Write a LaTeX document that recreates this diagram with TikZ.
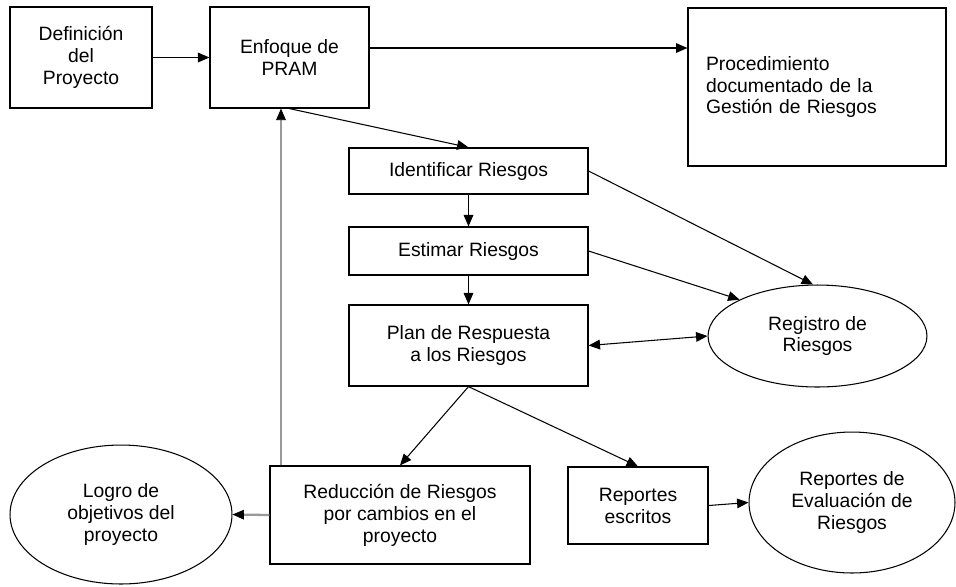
\documentclass[tikz,border=0pt]{standalone}
\usepackage{fontspec}
\setmainfont{Liberation Sans}
\usetikzlibrary{shapes.geometric,arrows.meta}
\begin{document}
\begin{tikzpicture}[x=0.02cm,y=-0.02cm,
		font=\fontsize{11}{12.5}\selectfont,
		caja/.style={draw,line width=0.7pt,rectangle,align=center,inner sep=0pt},
		elipse/.style={draw,line width=0.6pt,ellipse,align=center,inner sep=0pt},
		flecha/.style={line width=0.6pt,-{Triangle[length=6.5pt,width=5.5pt]}},
		gris/.style={draw=black!40,line width=1.3pt,-{Triangle[length=6.5pt,width=5.5pt,color=black,fill=black,line width=0.4pt]}}]
		\useasboundingbox (0,0) rectangle (956,586);
		\node[caja,minimum width=2.84cm,minimum height=2.02cm] (def) at (81,57.5) {Definición\\del\\Proyecto};
		\node[caja,minimum width=3.18cm,minimum height=2.02cm] (enfoque) at (289.5,57.5) {Enfoque de\\PRAM};
		\node[caja,minimum width=5.16cm,minimum height=3.16cm,text width=4.44cm,align=left] (proc) at (817,87) {Procedimiento\\documentado de la\\Gestión de Riesgos};
		\node[caja,minimum width=4.78cm,minimum height=0.92cm] (ident) at (468.5,171) {Identificar Riesgos};
		\node[caja,minimum width=4.78cm,minimum height=0.96cm] (estimar) at (468.5,251) {Estimar Riesgos};
		\node[caja,minimum width=4.78cm,minimum height=1.62cm] (plan) at (468.5,345.5) {Plan de Respuesta\\a los Riesgos};
		\node[elipse,minimum width=4.38cm,minimum height=2.04cm] (registro) at (817.5,336) {Registro de\\Riesgos};
		\node[caja,minimum width=5.2cm,minimum height=1.96cm] (reduccion) at (400,515) {Reducción de Riesgos\\por cambios en el\\proyecto};
		\node[caja,minimum width=2.8cm,minimum height=1.54cm] (reportes) at (638,505.5) {Reportes\\escritos};
		\node[elipse,minimum width=4.44cm,minimum height=2.78cm] (logro) at (121,514.5) {Logro de\\objetivos del\\proyecto};
		\node[elipse,minimum width=4.12cm,minimum height=2.82cm] (evaluacion) at (852,502.5) {Reportes de\\Evaluación de\\Riesgos};
		\draw[flecha] (def.east) -- (enfoque.west);
		\draw[flecha] (enfoque.east |- 0,48) -- (proc.west |- 0,48);
		\draw[flecha] (enfoque.south) -- (ident.north);
		\draw[flecha] (ident.south) -- (estimar.north);
		\draw[flecha] (estimar.south) -- (plan.north);
		\draw[flecha] (ident.east) -- (registro.95);
		\draw[flecha] (estimar.east) -- (registro.155);
		\draw[flecha,{Triangle[length=6.5pt,width=5.5pt]}-{Triangle[length=6.5pt,width=5.5pt]}] (plan.east) -- (registro.west);
		\draw[flecha] (plan.south) -- (reduccion.north);
		\draw[flecha] (plan.south) -- (reportes.north);
		\draw[flecha] (reportes.east) -- (evaluacion.west);
		\draw[gris] (reduccion.north -| 281,0) -- (enfoque.south -| 281,0);
		\draw[gris] (reduccion.west) -- (logro.east);
\end{tikzpicture}
\end{document}
